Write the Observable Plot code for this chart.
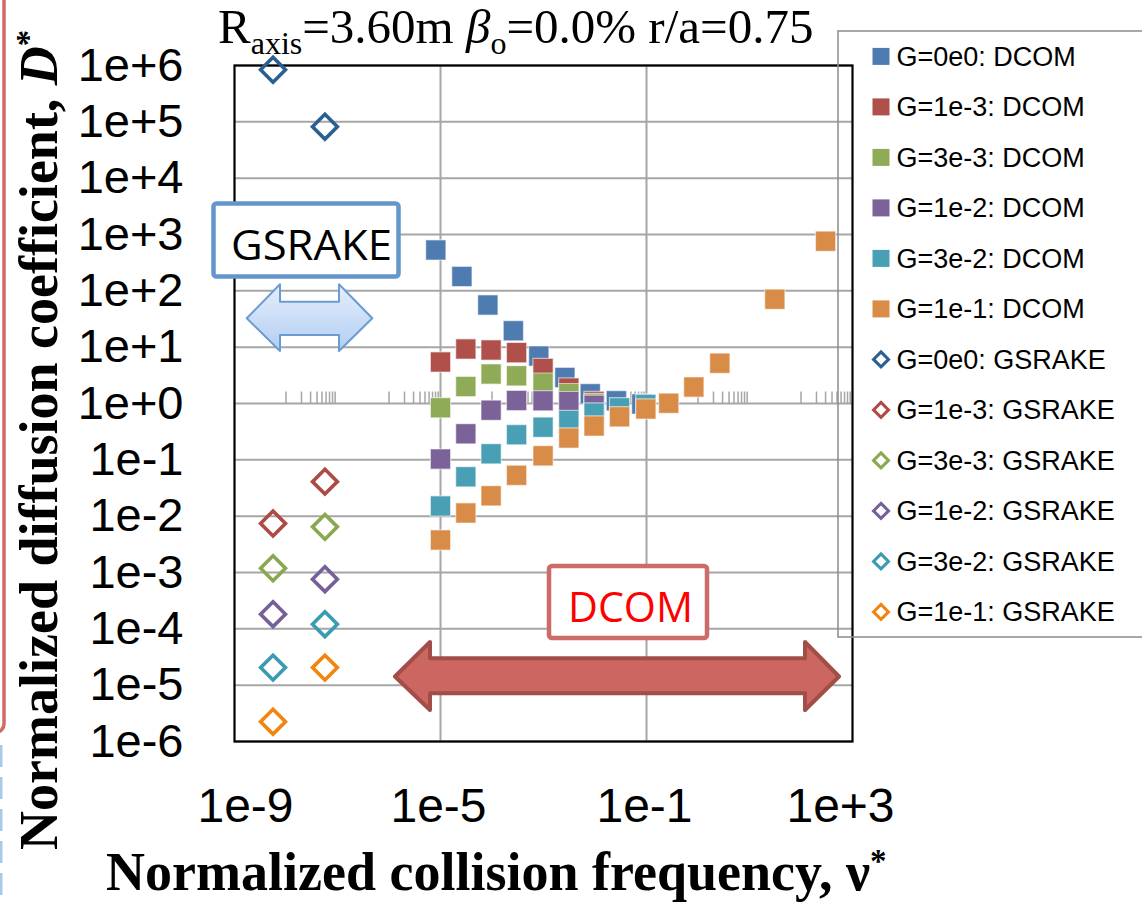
<!DOCTYPE html>
<html><head><meta charset="utf-8">
<script src="https://cdn.jsdelivr.net/npm/d3@7"></script>
<script src="https://cdn.jsdelivr.net/npm/@observablehq/plot@0.6"></script>
<style>
html,body{margin:0;padding:0;background:#fff;}
#wrap{position:relative;width:1142px;height:904px;overflow:hidden;background:#fff;}
#wrap svg{position:absolute;left:0;top:0;}
</style></head><body>
<div id="wrap"></div>
<script>
// ---- categories ----
const seriesG = ["0e0", "1e-3", "3e-3", "1e-2", "3e-2", "1e-1"];
const dcomColors = ["#4f7cb0", "#b0504b", "#8fab57", "#7b6299", "#49a0b5", "#d98c47"];
const gsrakeColors = ["#2b5f91", "#ad4a45", "#8aa84f", "#75609a", "#3a9bb2", "#f0860f"];

// ---- DCOM: normalized collision frequency ----
const nuDcomG0 = [8.1e-6, 2.6e-5, 8.3e-5, 2.6e-4, 8.1e-4, 2.6e-3, 8.1e-3, 2.6e-2, 8.1e-2];
const nuDcom = [1.0e-5, 3.1e-5, 9.6e-5, 3.0e-4, 9.8e-4, 3.1e-3, 9.6e-3, 3.0e-2, 9.7e-2, 0.27, 0.83, 2.65, 31, 300];

// ---- DCOM: normalized diffusion coefficient ----
const dDcomG0   = [531, 180, 56, 19.6, 6.95, 2.9, 1.49, 1.12, 0.98];
const dDcomG1e3 = [5.46, 9.3, 8.9, 8.0, 4.2, 1.88, 1.09];
const dDcomG3e3 = [0.84, 2.0, 3.33, 3.1, 2.3, 1.5, 1.0];
const dDcomG1e2 = [0.103, 0.29, 0.76, 1.13, 1.12, 1.08, 0.93];
const dDcomG3e2 = [0.0152, 0.050, 0.128, 0.28, 0.38, 0.50, 0.68, 0.84, 0.96];
const dDcomG1e1 = [0.00377, 0.0114, 0.023, 0.053, 0.118, 0.244, 0.40, 0.58, 0.80, 1.01, 1.96, 5.2, 71, 760];

// ---- GSRAKE ----
const nuGsrake = [5.6e-9, 5.7e-8];
const dGsG0   = [8.4e5, 8.2e4];
const dGsG1e3 = [0.0074, 0.041];
const dGsG3e3 = [0.00119, 0.00646];
const dGsG1e2 = [0.000182, 0.00076];
const dGsG3e2 = [2.05e-5, 0.000121];
const dGsG1e1 = [2.25e-6, 2.05e-5];

// ---- ticks ----
const yTicks = [1e-6, 1e-5, 1e-4, 1e-3, 1e-2, 1e-1, 1e0, 1e1, 1e2, 1e3, 1e4, 1e5, 1e6];
const yTickLabels = ["1e-6", "1e-5", "1e-4", "1e-3", "1e-2", "1e-1", "1e+0", "1e+1", "1e+2", "1e+3", "1e+4", "1e+5", "1e+6"];
const xTicks = [1e-9, 1e-5, 1e-1, 1e3];
const xTickLabels = ["1e-9", "1e-5", "1e-1", "1e+3"];
const xGrid = [1e-5, 1e-1];
const minorDecades = [1e-8, 1e-6, 1e-4, 1e-2, 1e0, 1e2];
const minorMultipliers = [1, 2, 3, 4, 5, 6, 7, 8, 9];
const axisCross = 1;

const dcomSeries = [
  {nu: nuDcomG0, D: dDcomG0},
  {nu: nuDcom, D: dDcomG1e3},
  {nu: nuDcom, D: dDcomG3e3},
  {nu: nuDcom, D: dDcomG1e2},
  {nu: nuDcom, D: dDcomG3e2},
  {nu: nuDcom, D: dDcomG1e1}
];
const gsSeries = [dGsG0, dGsG1e3, dGsG3e3, dGsG1e2, dGsG3e2, dGsG1e1];

const minorTicks = minorDecades.flatMap(d => minorMultipliers.map(m => m * d));
const tickSymbol = {draw(ctx) { ctx.moveTo(0, 0); ctx.lineTo(0, -12); }};
const xFmt = d => xTickLabels[xTicks.indexOf(d)];

const W = 1142, H = 904;
const xAxisOpts = {tickSize: 0, tickPadding: 46, fontSize: 48, fill: "#000", label: null, tickFormat: xFmt};
const marks = [
  Plot.gridY(yTicks, {stroke: "#a6a6a6", strokeOpacity: 1, strokeWidth: 2}),
  Plot.gridX(xGrid, {stroke: "#a6a6a6", strokeOpacity: 1, strokeWidth: 2}),
  Plot.dot(minorTicks, {x: d => d, y: axisCross, symbol: tickSymbol, r: 1, stroke: "#a6a6a6", strokeWidth: 1.5, fill: "none"}),
  Plot.frame({stroke: "#000", strokeWidth: 2.2}),
  Plot.axisY(yTicks, {tickSize: 0, tickPadding: 51, fontSize: 47, fill: "#000", label: null,
    tickFormat: d => yTickLabels[yTicks.indexOf(d)]}),
  Plot.axisX([xTicks[0]], {...xAxisOpts, dx: 11}),
  Plot.axisX(xTicks.slice(1, 3), {...xAxisOpts, dx: -2}),
  Plot.axisX([xTicks[3]], {...xAxisOpts, dx: -12})
];
dcomSeries.forEach((s, i) => {
  marks.push(Plot.dot(s.D.map((v, j) => ({nu: s.nu[j], D: v})), {
    x: "nu", y: "D", symbol: "square", r: 11.4, fill: dcomColors[i],
    stroke: "#ffffff", strokeOpacity: 0.55, strokeWidth: 1.2
  }));
});
gsSeries.forEach((arr, i) => {
  marks.push(Plot.dot(arr.map((v, j) => ({nu: nuGsrake[j], D: v})), {
    x: "nu", y: "D", symbol: "diamond2", r: 11.2, fill: "none",
    stroke: gsrakeColors[i], strokeWidth: 3.6
  }));
});

const chart = Plot.plot({
  width: W, height: H,
  marginLeft: 234, marginRight: 290, marginTop: 65, marginBottom: 163,
  x: {type: "log", domain: [1e-9, 1e3]},
  y: {type: "log", domain: [1e-6, 1e6]},
  style: {fontFamily: "'Liberation Sans', Arial, sans-serif", background: "#fff", color: "#000"},
  marks
});
const wrap = document.getElementById("wrap");
wrap.appendChild(chart);

// ---- overlay: annotations, title, axis labels, legend ----
const ov = d3.select(wrap).append("svg").attr("width", W).attr("height", H)
  .style("pointer-events", "none");
const defs = ov.append("defs");
const g1 = defs.append("linearGradient").attr("id", "bluegrad")
  .attr("x1", 0).attr("y1", 0).attr("x2", 0).attr("y2", 1);
g1.append("stop").attr("offset", "0%").attr("stop-color", "#e6effc");
g1.append("stop").attr("offset", "100%").attr("stop-color", "#b2cdf2");

// slide decorations at the left edge
ov.append("rect").attr("x", -300).attr("y", -20).attr("width", 304).attr("height", 752)
  .attr("rx", 8).attr("fill", "none").attr("stroke", "#d06a66").attr("stroke-width", 3.5);
ov.append("line").attr("x1", 1.2).attr("x2", 1.2).attr("y1", 745).attr("y2", 904)
  .attr("stroke", "#a9c9ea").attr("stroke-width", 2.6).attr("stroke-dasharray", "22 10");

// GSRAKE box + arrow
ov.append("rect").attr("x", 213.5).attr("y", 203.5).attr("width", 185).attr("height", 73)
  .attr("rx", 3).attr("fill", "#fff").attr("stroke", "#6396cb").attr("stroke-width", 4.5);
ov.append("text").attr("x", 231).attr("y", 260).attr("font-family", "'Open Sans', sans-serif")
  .attr("font-size", 42).attr("fill", "#000").attr("textLength", 161)
  .attr("lengthAdjust", "spacingAndGlyphs").text("GSRAKE");
ov.append("path")
  .attr("d", "M246.7,318.3 L280,284.3 L280,301.7 L339,301.7 L339,284.3 L372.3,318.3 L339,351 L339,335 L280,335 L280,351 Z")
  .attr("fill", "url(#bluegrad)").attr("stroke", "#6a9bd1").attr("stroke-width", 2).attr("stroke-linejoin", "round");

// DCOM box + arrow
ov.append("path")
  .attr("d", "M395,676.5 L430,642 L430,658.3 L805,658.3 L805,642 L839,676.5 L805,710 L805,693.3 L430,693.3 L430,710 Z")
  .attr("fill", "#cc6660").attr("stroke", "#a24d48").attr("stroke-width", 4).attr("stroke-linejoin", "round");
ov.append("rect").attr("x", 549).attr("y", 566).attr("width", 158).attr("height", 72)
  .attr("rx", 3).attr("fill", "#fff").attr("stroke", "#cd6b66").attr("stroke-width", 4.5);
ov.append("text").attr("x", 568).attr("y", 621.5).attr("font-family", "'Open Sans', sans-serif")
  .attr("font-size", 42).attr("fill", "#ff0000").attr("textLength", 125)
  .attr("lengthAdjust", "spacingAndGlyphs").text("DCOM");

// title
const serif = "'Liberation Serif', 'Times New Roman', serif";
const title = ov.append("text").attr("x", 218).attr("y", 43)
  .attr("font-family", serif).attr("font-size", 49).attr("fill", "#000");
title.append("tspan").text("R");
title.append("tspan").attr("font-size", 32).attr("dy", 11).text("axis");
title.append("tspan").attr("dy", -11).text("=3.60m  ");
title.append("tspan").attr("font-style", "italic").text("β");
title.append("tspan").attr("font-size", 32).attr("dy", 11).text("o");
title.append("tspan").attr("dy", -11).text("=0.0% r/a=0.75");

// axis titles
const xl = ov.append("text").attr("x", 106).attr("y", 890).attr("font-family", serif)
  .attr("font-weight", "bold").attr("font-size", 54);
xl.append("tspan").text("Normalized collision frequency, ν");
xl.append("tspan").attr("font-size", 33).attr("dy", -18).text("*");

const yl = ov.append("text").attr("transform", "translate(57,850) rotate(-90)").attr("font-family", serif)
  .attr("font-weight", "bold").attr("font-size", 54);
yl.append("tspan").text("Normalized diffusion coefficient, ");
yl.append("tspan").attr("font-style", "italic").text("D");
yl.append("tspan").attr("font-size", 33).attr("dy", -18).text("*");

// legend
ov.append("rect").attr("x", 838).attr("y", 31).attr("width", 400).attr("height", 606)
  .attr("fill", "none").attr("stroke", "#8c8c8c").attr("stroke-width", 1.5);
const legendLabels = [
  ...seriesG.map(g => `G=${g}: DCOM`),
  ...seriesG.map(g => `G=${g}: GSRAKE`)
];
legendLabels.forEach((lab, k) => {
  const cy = 56.4 + 50.5 * k;
  if (k < 6) {
    ov.append("rect").attr("x", 872.5).attr("y", cy - 8.5).attr("width", 17).attr("height", 17)
      .attr("fill", dcomColors[k]);
  } else {
    const c = 881, h = 7.5;
    ov.append("path").attr("d", `M${c},${cy - h} L${c + h},${cy} L${c},${cy + h} L${c - h},${cy} Z`)
      .attr("fill", "none").attr("stroke", gsrakeColors[k - 6]).attr("stroke-width", 3);
  }
  ov.append("text").attr("x", 896.5).attr("y", cy + 9.5)
    .attr("font-family", "'Liberation Sans', Arial, sans-serif").attr("font-size", 27)
    .attr("fill", "#000").text(lab);
});
</script>
</body></html>
